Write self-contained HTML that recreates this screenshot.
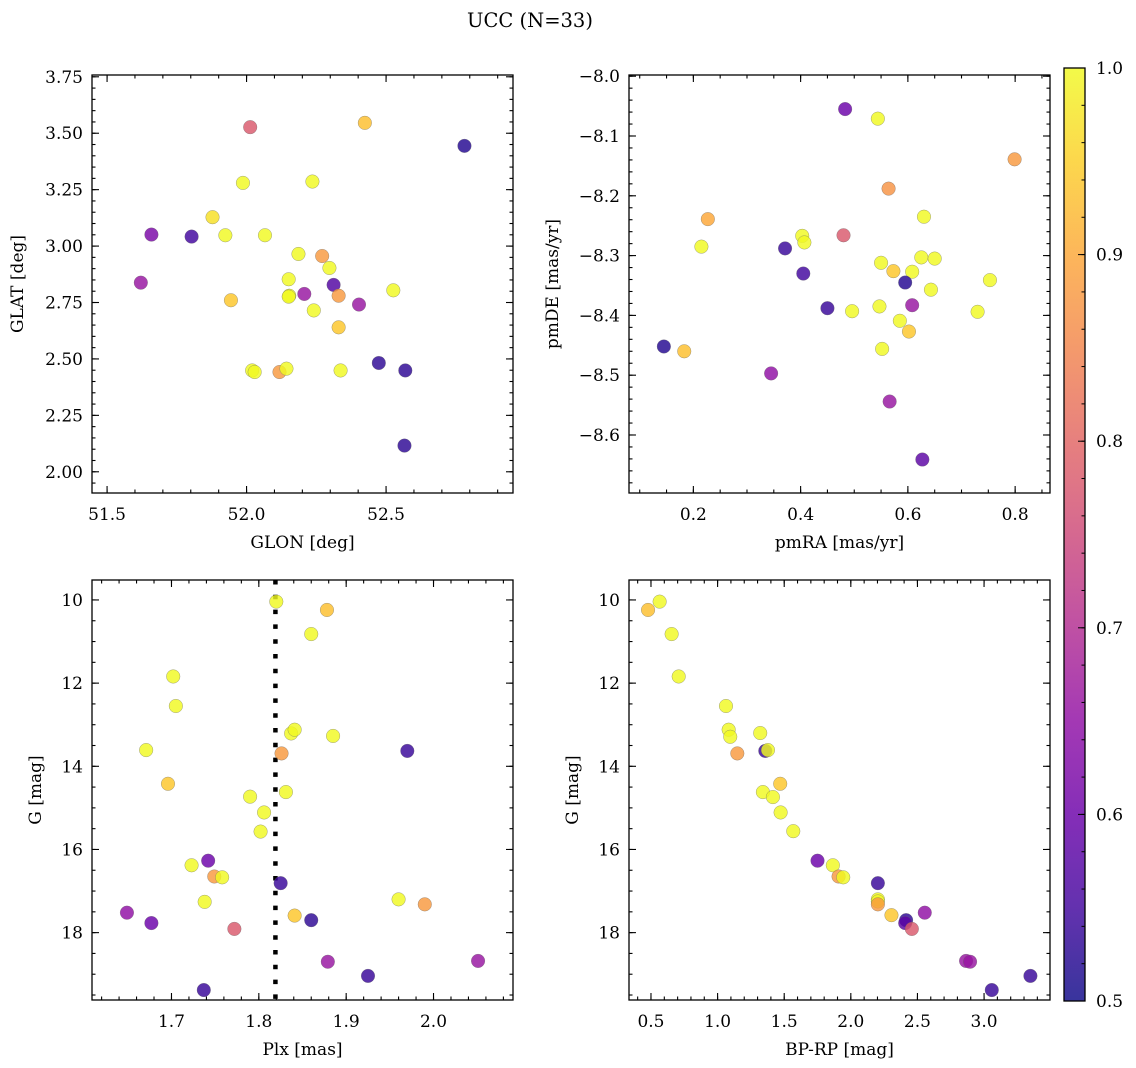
<!DOCTYPE html>
<html><head><meta charset="utf-8"><style>
html,body{margin:0;padding:0;background:#fff;}
svg{display:block;font-family:"DejaVu Serif","Liberation Serif",serif;}
</style></head><body>
<svg id="fig" width="1136" height="1068" viewBox="0 0 1136 1068" xmlns="http://www.w3.org/2000/svg">
<defs><linearGradient id="cbgrad" x1="0" y1="1" x2="0" y2="0"></linearGradient></defs>
<text x="530" y="27" text-anchor="middle" font-size="19.5" fill="#000">UCC (N=33)</text>
</svg>
<script>
// ---- data ----
const p1Glon=[52.013,52.424,52.781,51.987,52.236,51.878,51.659,51.803,51.924,52.066,52.186,52.271,52.297,51.621,52.151,52.312,52.526,52.153,52.207,52.330,51.944,52.403,52.241,52.330,52.474,52.569,52.020,52.029,52.118,52.143,52.337,52.566,52.151];
const p1Glat=[3.527,3.546,3.444,3.280,3.286,3.128,3.051,3.042,3.048,3.048,2.965,2.956,2.903,2.838,2.853,2.828,2.804,2.780,2.788,2.780,2.760,2.741,2.715,2.640,2.482,2.449,2.449,2.442,2.442,2.457,2.449,2.116,2.776];
const p1Prob=[0.78,0.93,0.52,1.0,1.0,0.97,0.62,0.55,1.0,1.0,1.0,0.88,1.0,0.66,1.0,0.57,1.0,1.0,0.66,0.88,0.94,0.66,1.0,0.94,0.53,0.53,1.0,1.0,0.88,1.0,1.0,0.53,1.0];

const p2PmRA=[0.483,0.544,0.799,0.564,0.227,0.630,0.403,0.407,0.480,0.215,0.371,0.625,0.650,0.550,0.573,0.608,0.405,0.595,0.753,0.643,0.450,0.547,0.608,0.496,0.730,0.585,0.602,0.145,0.183,0.552,0.345,0.566,0.627];
const p2PmDE=[-8.055,-8.071,-8.139,-8.188,-8.239,-8.235,-8.267,-8.278,-8.266,-8.285,-8.288,-8.303,-8.305,-8.312,-8.326,-8.327,-8.330,-8.345,-8.341,-8.357,-8.388,-8.385,-8.383,-8.393,-8.394,-8.409,-8.427,-8.452,-8.460,-8.456,-8.497,-8.544,-8.641];
const p2Prob=[0.60,1.0,0.88,0.87,0.90,1.0,1.0,1.0,0.78,1.0,0.54,1.0,1.0,1.0,0.94,1.0,0.55,0.52,1.0,1.0,0.54,1.0,0.66,1.0,1.0,1.0,0.94,0.52,0.93,1.0,0.65,0.66,0.58];

const p3Plx=[1.820,1.878,1.860,1.702,1.705,1.837,1.841,1.885,1.671,1.826,1.970,1.696,1.831,1.790,1.806,1.802,1.723,1.742,1.749,1.758,1.825,1.738,1.960,1.990,1.649,1.677,1.841,1.860,1.772,1.879,2.051,1.925,1.737];
const p3G=[10.04,10.24,10.82,11.84,12.55,13.21,13.12,13.27,13.61,13.69,13.63,14.42,14.62,14.73,15.11,15.57,16.38,16.27,16.65,16.67,16.81,17.26,17.20,17.32,17.52,17.77,17.59,17.70,17.91,18.70,18.68,19.04,19.38];
const p3Prob=[1.0,0.93,1.0,1.0,1.0,1.0,1.0,1.0,1.0,0.88,0.54,0.94,1.0,1.0,1.0,1.0,1.0,0.60,0.88,1.0,0.54,1.0,1.0,0.88,0.65,0.60,0.94,0.53,0.78,0.66,0.66,0.54,0.54];
const plxMean=1.819;

const p4BpRp=[0.478,0.565,0.655,0.708,1.063,1.083,1.095,1.320,1.148,1.358,1.378,1.470,1.340,1.415,1.473,1.568,1.750,1.865,1.908,1.943,2.203,2.203,2.203,2.203,2.305,2.415,2.408,2.458,2.555,2.865,2.895,3.348,3.058];
const p4G=[10.24,10.04,10.82,11.84,12.55,13.12,13.29,13.20,13.69,13.63,13.61,14.42,14.62,14.74,15.11,15.56,16.27,16.38,16.65,16.67,16.81,17.20,17.25,17.32,17.58,17.70,17.77,17.91,17.52,18.68,18.70,19.04,19.38];
const p4Prob=[0.93,1.0,1.0,1.0,1.0,1.0,1.0,1.0,0.88,0.54,1.0,0.94,1.0,1.0,1.0,1.0,0.60,1.0,0.88,1.0,0.54,1.0,1.0,0.88,0.94,0.53,0.58,0.78,0.65,0.66,0.66,0.54,0.54];

const cbTicks=[0.5,0.6,0.7,0.8,0.9,1.0];

// ---- helpers ----
const NS='http://www.w3.org/2000/svg';
const svg=document.getElementById('fig');
function mk(tag,attrs,parent){const e=document.createElementNS(NS,tag);for(const k in attrs)e.setAttribute(k,attrs[k]);(parent||svg).appendChild(e);return e;}
const plasma=[[13,8,135],[65,4,157],[106,0,168],[143,13,164],[177,42,144],[204,71,120],[225,100,98],[242,132,75],[252,166,54],[252,206,37],[240,249,33]];
function cmap(v){let t=Math.max(0,Math.min(1,(v-0.5)/0.5))*10;const i=Math.min(9,Math.floor(t));const f=t-i;const a=plasma[i],b=plasma[i+1];
 return 'rgb('+[0,1,2].map(j=>Math.round(a[j]+(b[j]-a[j])*f)).join(',')+')';}
function ticks(lo,hi,step){const r=[];for(let k=Math.ceil(lo/step-1e-9);k<=Math.floor(hi/step+1e-9);k++)r.push(+(k*step).toFixed(6));return r;}
function fmt(v,d){return v.toFixed(d).replace('-','\u2212');}
const FS=17;

function panel(cfg){
 const g=mk('g',{});
 
 
 const X=v=>cfg.x0+(v-cfg.xd[0])/(cfg.xd[1]-cfg.xd[0])*(cfg.x1-cfg.x0);
 const Y=cfg.inv?(v=>cfg.y0+(v-cfg.yd[0])/(cfg.yd[1]-cfg.yd[0])*(cfg.y1-cfg.y0)):(v=>cfg.y1-(v-cfg.yd[0])/(cfg.yd[1]-cfg.yd[0])*(cfg.y1-cfg.y0));
 const ylo=Math.min(cfg.yd[0],cfg.yd[1]),yhi=Math.max(cfg.yd[0],cfg.yd[1]);
 const tk=mk('g',{stroke:'#000','stroke-width':1.1},g);
 
 
 ticks(cfg.xd[0],cfg.xd[1],cfg.xmin).forEach(v=>{const x=X(v);mk('line',{x1:x,x2:x,y1:cfg.y1,y2:cfg.y1-3.5},tk);mk('line',{x1:x,x2:x,y1:cfg.y0,y2:cfg.y0+3.5},tk);});
 ticks(ylo,yhi,cfg.ymin).forEach(v=>{const y=Y(v);mk('line',{x1:cfg.x0,x2:cfg.x0+3.5,y1:y,y2:y},tk);mk('line',{x1:cfg.x1,x2:cfg.x1-3.5,y1:y,y2:y},tk);});
 ticks(cfg.xd[0],cfg.xd[1],cfg.xstep).forEach(v=>{const x=X(v);mk('line',{x1:x,x2:x,y1:cfg.y1,y2:cfg.y1-7},tk);mk('line',{x1:x,x2:x,y1:cfg.y0,y2:cfg.y0+7},tk);
  const t=mk('text',{x:x,y:cfg.y1+27,'text-anchor':'middle','font-size':FS,fill:'#000',stroke:'none'},g);t.textContent=fmt(v,cfg.xdec);
  });
 ticks(ylo,yhi,cfg.ystep).forEach(v=>{const y=Y(v);mk('line',{x1:cfg.x0,x2:cfg.x0+7,y1:y,y2:y},tk);mk('line',{x1:cfg.x1,x2:cfg.x1-7,y1:y,y2:y},tk);
  const t=mk('text',{x:cfg.x0-9,y:y+6,'text-anchor':'end','font-size':FS,fill:'#000'},g);t.textContent=fmt(v,cfg.ydec);
  });
 if(cfg.vline!==undefined){const l=mk('line',{x1:X(cfg.vline),x2:X(cfg.vline),y1:cfg.y0,y2:cfg.y1,stroke:'#000','stroke-width':4.5,'stroke-dasharray':'4.5 10.3'},g);
  }
 const pg=mk('g',{},g);
 
 
 cfg.xs.forEach((xv,i)=>{const c=mk('circle',{cx:X(xv),cy:Y(cfg.ys[i]),r:6.8,fill:cmap(cfg.cs[i]),'fill-opacity':0.82,stroke:'#666','stroke-opacity':0.6,'stroke-width':0.5},pg);
  
  });
 const f=mk('rect',{x:cfg.x0,y:cfg.y0,width:cfg.x1-cfg.x0,height:cfg.y1-cfg.y0,fill:'none',stroke:'#000','stroke-width':1.3},g);
 
 const xl=mk('text',{x:(cfg.x0+cfg.x1)/2,y:cfg.y1+55,'text-anchor':'middle','font-size':FS,fill:'#000'},g);xl.textContent=cfg.xlabel;
 
 const yx=cfg.ylx,yy=(cfg.y0+cfg.y1)/2;
 const yl=mk('text',{x:yx,y:yy,'text-anchor':'middle','font-size':FS,fill:'#000',transform:'rotate(-90 '+yx+' '+yy+')'},g);yl.textContent=cfg.ylabel;
 
}

panel({name:'glon-glat-panel',x0:92,x1:513,y0:75,y1:493,xd:[51.446,52.955],yd:[1.906,3.758],xstep:0.5,xmin:0.1,xdec:1,ystep:0.25,ymin:0.05,ydec:2,xs:p1Glon,ys:p1Glat,cs:p1Prob,xlabel:'GLON [deg]',ylabel:'GLAT [deg]',ylx:23});
panel({name:'pm-panel',x0:629,x1:1050,y0:75,y1:493,xd:[0.080,0.865],yd:[-8.697,-7.998],xstep:0.2,xmin:0.05,xdec:1,ystep:0.1,ymin:0.02,ydec:1,xs:p2PmRA,ys:p2PmDE,cs:p2Prob,xlabel:'pmRA [mas/yr]',ylabel:'pmDE [mas/yr]',ylx:558});
panel({name:'plx-g-panel',x0:92,x1:513,y0:580,y1:1000,xd:[1.609,2.091],yd:[9.52,19.62],inv:true,xstep:0.1,xmin:0.02,xdec:1,ystep:2,ymin:0.5,ydec:0,xs:p3Plx,ys:p3G,cs:p3Prob,xlabel:'Plx [mas]',ylabel:'G [mag]',ylx:41,vline:plxMean});
panel({name:'cmd-panel',x0:629,x1:1050,y0:580,y1:1000,xd:[0.335,3.495],yd:[9.52,19.62],inv:true,xstep:0.5,xmin:0.1,xdec:1,ystep:2,ymin:0.5,ydec:0,xs:p4BpRp,ys:p4G,cs:p4Prob,xlabel:'BP-RP [mag]',ylabel:'G [mag]',ylx:578});

// colorbar
const grad=document.getElementById('cbgrad');
for(let i=0;i<=20;i++){mk('stop',{offset:(i/20),'stop-color':cmap(0.5+0.5*i/20),'stop-opacity':0.82},grad);}
const cb={x0:1064,x1:1085,y0:68,y1:1001};
const CY=v=>cb.y1-(v-0.5)/0.5*(cb.y1-cb.y0);
const cbg=mk('g',{});


mk('rect',{x:cb.x0,y:cb.y0,width:cb.x1-cb.x0,height:cb.y1-cb.y0,fill:'url(#cbgrad)',stroke:'#000','stroke-width':1.3},cbg);
ticks(0.5,1.0,0.02).forEach(v=>{mk('line',{x1:cb.x1,x2:cb.x1-3.5,y1:CY(v),y2:CY(v),stroke:'#000','stroke-width':1},cbg);});
cbTicks.forEach(v=>{mk('line',{x1:cb.x1,x2:cb.x1-7,y1:CY(v),y2:CY(v),stroke:'#000','stroke-width':1},cbg);
 const t=mk('text',{x:cb.x1+11,y:CY(v)+6,'font-size':FS,fill:'#000'},cbg);t.textContent=v.toFixed(1);
 });
</script>
</body></html>
